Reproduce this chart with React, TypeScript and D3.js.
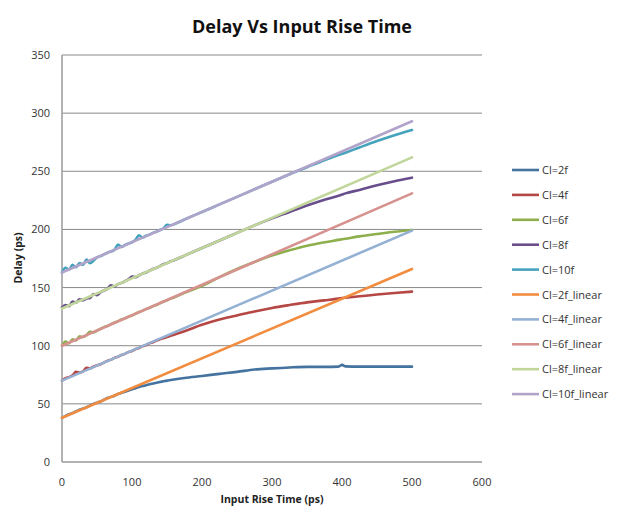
import React from "react";
import * as d3 from "d3";

const title = "Delay Vs Input Rise Time";
const xTitle = "Input Rise Time (ps)";
const yTitle = "Delay (ps)";
const xTicks = [0, 100, 200, 300, 400, 500, 600];
const yTicks = [0, 50, 100, 150, 200, 250, 300, 350];

// x samples shared by the simulated (non-linear) series
const xSim = [0, 5, 10, 15, 20, 25, 30, 35, 40, 45, 50, 55, 60, 65, 70, 75, 80, 85, 90, 95, 100, 105, 110, 115, 120, 125, 130, 135, 140, 145, 150, 155, 160, 175, 200, 225, 250, 275, 300, 325, 350, 375, 395, 400, 405, 425, 450, 475, 500];

const cl2f = [38, 39.5, 41, 42, 43.5, 45, 46, 47, 48.5, 50, 51, 52, 53.5, 55, 56, 57, 58.5, 59.5, 60.5, 61.5, 62.5, 63.5, 64.5, 65.3, 66, 66.8, 67.5, 68.2, 68.8, 69.4, 70, 70.5, 71, 72.3, 74, 75.8, 77.5, 79.5, 80.5, 81.3, 81.8, 81.8, 82, 83.5, 82.2, 82, 82, 82, 82];
const cl4f = [70, 72, 73, 74.5, 77.5, 77, 78, 81, 80.5, 82, 83, 84, 85.5, 87, 88, 89.5, 90.5, 92, 93, 94.5, 95.5, 97, 98, 99.5, 100.5, 102, 103, 104.5, 105.5, 106.5, 107.5, 108.5, 109.5, 112.5, 118, 122.5, 126, 129.5, 132.5, 135, 137.3, 139, 140.5, 141, 141.3, 142.5, 144, 145.3, 146.5];
const cl6f = [100, 103.5, 102, 105.5, 104.5, 108, 107.5, 109, 112, 111.5, 113, 114.5, 116, 117, 118.5, 120, 121, 122.5, 123.5, 125, 126, 127.5, 129, 130, 131.5, 132.5, 134, 135, 136.5, 138, 139, 140.5, 141.5, 145.5, 151.5, 159, 166, 172, 177.5, 182, 186, 189, 191, 191.5, 192, 194, 196, 198, 199.5];
const cl8f = [133, 135, 134, 138, 137, 140, 139, 140.5, 141, 144.5, 143.5, 146, 147.5, 149, 152, 151, 153, 154, 155.5, 157, 159.5, 159, 160.5, 162, 163, 164.5, 166, 167, 168.5, 170, 171, 172.5, 173.5, 177.5, 184, 190.5, 197, 203.5, 209.5, 215, 220.5, 225.5, 229, 230, 231, 234, 238, 241.5, 244.5];
const cl10f = [163, 167, 165.5, 169.5, 167.5, 171, 169.5, 174, 171, 173, 176, 177, 178.5, 180, 181, 182.5, 187, 185, 186.5, 188, 189, 191, 195, 193, 194.5, 195.5, 197, 198, 199.5, 201, 204, 203.5, 204.5, 208.5, 215, 221.5, 228, 234.5, 241, 247.5, 253.5, 259.5, 264, 265, 266, 270.5, 276, 281, 285.5];

// linear fits: end points
const xLin = [0, 500];
const cl2fLin = [38, 166];
const cl4fLin = [70, 199];
const cl6fLin = [100, 231];
const cl8fLin = [132, 262];
const cl10fLin = [163, 293];

const seriesNames = ["Cl=2f", "Cl=4f", "Cl=6f", "Cl=8f", "Cl=10f", "Cl=2f_linear", "Cl=4f_linear", "Cl=6f_linear", "Cl=8f_linear", "Cl=10f_linear"];
const seriesColors = ["#44739F", "#B54744", "#8DAF4C", "#684E8D", "#45A3BD", "#F28C3E", "#94B1D4", "#D6928F", "#C0D69A", "#B1A3C9"];
const seriesX = [xSim, xSim, xSim, xSim, xSim, xLin, xLin, xLin, xLin, xLin];
const seriesY = [cl2f, cl4f, cl6f, cl8f, cl10f, cl2fLin, cl4fLin, cl6fLin, cl8fLin, cl10fLin];

const W = 619;
const H = 508;
const font = "'Open Sans', 'Noto Sans', sans-serif";

export default function App() {
  const x = d3.scaleLinear().domain([0, 600]).range([62, 482]);
  const y = d3.scaleLinear().domain([0, 350]).range([462, 55]);
  const line = d3
    .line<[number, number]>()
    .x((d) => x(d[0]))
    .y((d) => y(d[1]))
    .curve(d3.curveMonotoneX);

  return (
    <svg
      width={W}
      height={H}
      style={{ position: "absolute", left: 0, top: 0, background: "#fff" }}
      fontFamily={font}
    >
      <rect x={0} y={0} width={W} height={H} fill="#fff" />
      <text x={302} y={33} textAnchor="middle" fontSize={18} fontWeight="bold" fill="#111">
        {title}
      </text>
      {yTicks.map((t) => (
        <g key={"y" + t}>
          {t > 0 && (
            <line x1={x(0)} x2={x(600)} y1={y(t)} y2={y(t)} stroke="#8a8a8a" strokeWidth={1} />
          )}
          <text x={50} y={y(t) + 4} textAnchor="end" fontSize={11} fill="#333">
            {t}
          </text>
        </g>
      ))}
      <line x1={x(0)} x2={x(0)} y1={y(350)} y2={y(0)} stroke="#9a9a9a" strokeWidth={1.5} />
      <line x1={x(0)} x2={x(600)} y1={y(0)} y2={y(0)} stroke="#9a9a9a" strokeWidth={1.5} />
      {xTicks.map((t) => (
        <text key={"x" + t} x={x(t)} y={486} textAnchor="middle" fontSize={11} fill="#333">
          {t}
        </text>
      ))}
      <text x={272} y={503} textAnchor="middle" fontSize={10.5} fontWeight="bold" fill="#222">
        {xTitle}
      </text>
      <text
        transform={`translate(22,258) rotate(-90)`}
        textAnchor="middle"
        fontSize={10.5}
        fontWeight="bold"
        fill="#222"
      >
        {yTitle}
      </text>
      {seriesNames.map((name, i) => {
        const pts: [number, number][] = seriesX[i].map((xv, j) => [xv, seriesY[i][j]]);
        return (
          <path
            key={name}
            d={line(pts) || ""}
            fill="none"
            stroke={seriesColors[i]}
            strokeWidth={2.6}
            strokeLinejoin="round"
            strokeLinecap="round"
          />
        );
      })}
      {seriesNames.map((name, i) => {
        const ly = 170 + i * 24.9;
        return (
          <g key={"lg" + name}>
            <line x1={512} x2={539} y1={ly} y2={ly} stroke={seriesColors[i]} strokeWidth={2.6} />
            <text x={542} y={ly + 4} fontSize={11} fill="#333">
              {name}
            </text>
          </g>
        );
      })}
    </svg>
  );
}
